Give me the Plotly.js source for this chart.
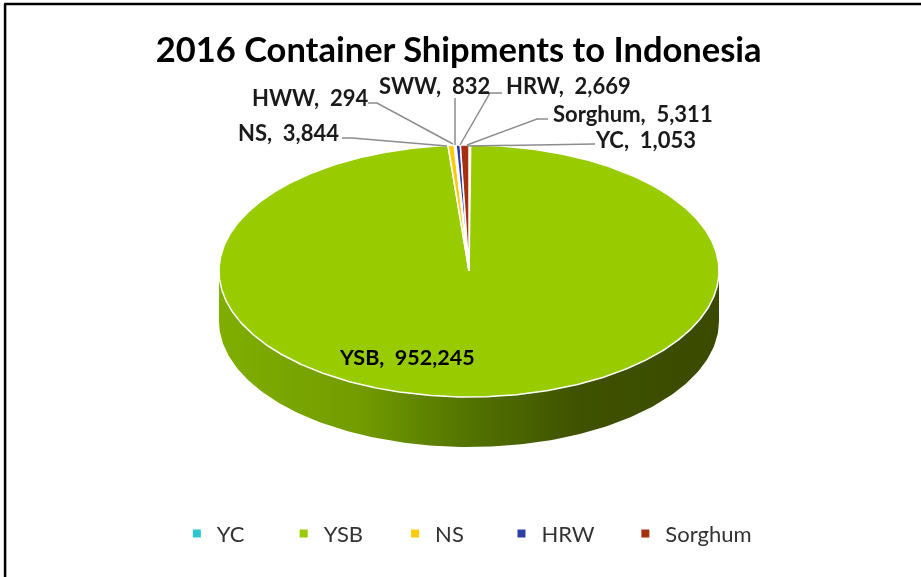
<!DOCTYPE html>
<html><head><meta charset="utf-8">
<script src="https://cdn.plot.ly/plotly-3.0.1.min.js"></script>
<style>html,body{margin:0;padding:0;background:#fff;overflow:hidden}#c{width:921px;height:577px;filter:blur(0.6px)}</style>
</head><body><div id="c"></div>
<script>
const categories=['YC','YSB','NS','HWW','SWW','HRW','Sorghum'];
const shipments=[1053,952245,3844,294,832,2669,5311];
const colors=['#2cc6cc','#99cc00','#ffc90e','#8fa2dc','#c9cfe8','#2f3fa8','#a5300f'];
const legendCategories=['YC','YSB','NS','HRW','Sorghum'];
const legendX=[0.192,0.308,0.429,0.5445,0.679];
const labelText=['YC, 1,053','YSB, 952,245','NS, 3,844','HWW, 294','SWW, 832','HRW, 2,669','Sorghum, 5,311'];
const labelX=[645,407,288,310,434,568,633];
const labelY=[139,357,132,97,85,85,113];
const leaders=['M595 144L467 146','','M342 138L352 138L447 146','M368 103L377 103L453 144','M455 98L455 145','M502 93L490 93L460 145','M548 119L537 119L467 145'];

const cx=469,cy=271,rx=250,ry=126,depth=50;
const total=shipments.reduce((a,b)=>a+b,0);
const px=t=>cx+rx*Math.sin(t), py=t=>cy-ry*Math.cos(t);
const traces=[];
// rim
const rx1=[],ry1=[];
for(let i=0;i<=180;i++){const t=Math.PI/2+i*Math.PI/180;rx1.push(px(t));ry1.push(py(t));}
for(let i=180;i>=0;i--){const t=Math.PI/2+i*Math.PI/180;rx1.push(px(t));ry1.push(py(t)+depth);}
traces.push({x:rx1,y:ry1,mode:'lines',fill:'toself',line:{width:0,color:'rgba(0,0,0,0)'},
  fillgradient:{type:'horizontal',colorscale:[[0,'#7fae00'],[0.28,'#739c00'],[0.5,'#527300'],[0.72,'#3f5200'],[1,'#3a4a00']]},
  showlegend:false,hoverinfo:'skip'});
// slices
let acc=0;
shipments.forEach((v,i)=>{
  const a0=acc/total*2*Math.PI; acc+=v; const a1=acc/total*2*Math.PI;
  const n=Math.max(2,Math.ceil((a1-a0)*90));
  const xs=[cx],ys=[cy];
  for(let k=0;k<=n;k++){const t=a0+(a1-a0)*k/n;xs.push(px(t));ys.push(py(t));}
  xs.push(cx);ys.push(cy);
  traces.push({x:xs,y:ys,name:categories[i],mode:'lines',fill:'toself',fillcolor:colors[i],
    line:{color:'#ffffff',width:1.5},showlegend:false,hoverinfo:'name'});
});
// legend
legendCategories.forEach((c,i)=>{
  traces.push({x:[null],y:[null],name:c,mode:'markers',
    marker:{symbol:'square',size:8,color:colors[categories.indexOf(c)]},
    showlegend:true,legend:i?('legend'+(i+1)):'legend'});
});
const layout={
  width:921,height:577,margin:{l:0,r:0,t:0,b:0},paper_bgcolor:'#fff',plot_bgcolor:'#fff',
  showlegend:true,
  font:{family:'Lato, sans-serif',color:'#111'},
  xaxis:{range:[0,921],visible:false,fixedrange:true},
  yaxis:{range:[577,0],visible:false,fixedrange:true},
  title:{text:'<b>2016 Container Shipments to Indonesia</b>',font:{family:'Lato, sans-serif',size:34.5,color:'#000'},x:0.498,xanchor:'center',y:0.913,yanchor:'middle'},
  annotations:labelText.map((t,i)=>({x:labelX[i],y:labelY[i],xref:'x',yref:'y',text:'<b>'+t.replace(', ',',&nbsp;&nbsp;')+'</b>',showarrow:false,
    font:{size:i===1?21.5:22,family:'Lato, sans-serif',color:i===1?'#000':'#1a1a1a'}})),
  shapes:leaders.filter(p=>p).map(p=>({type:'path',path:p,xref:'x',yref:'y',line:{color:'#8c8c8c',width:1.5}}))
   .concat([{type:'line',xref:'paper',yref:'paper',x0:0.0055,x1:0.0055,y0:0,y1:0.993,line:{color:'#000',width:2.5}},
            {type:'line',xref:'paper',yref:'paper',x0:0.0045,x1:1,y0:0.993,y1:0.993,line:{color:'#000',width:2.5}}])
};
legendCategories.forEach((c,i)=>{
  layout[i?('legend'+(i+1)):'legend']={x:legendX[i],xanchor:'left',y:0.075,yanchor:'middle',
    font:{size:22,color:'#333',family:'Lato, sans-serif'},bgcolor:'rgba(0,0,0,0)',itemclick:false,itemdoubleclick:false};
});
layout.legend.orientation='v';
Plotly.newPlot('c',traces,layout,{displayModeBar:false,staticPlot:true});
</script></body></html>
